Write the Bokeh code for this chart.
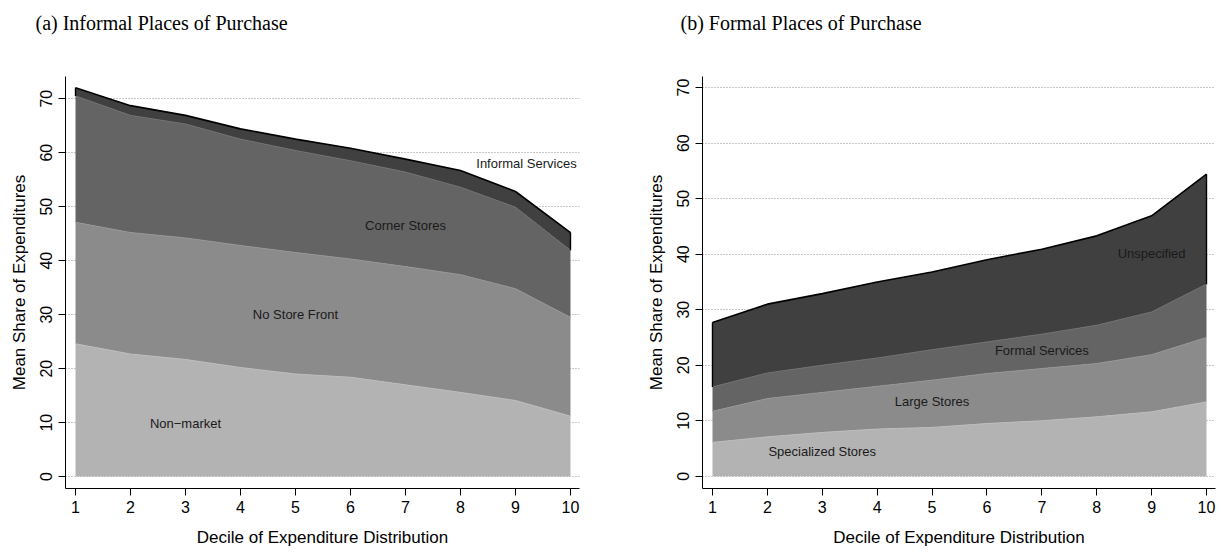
from bokeh.plotting import figure
from bokeh.layouts import row, column
from bokeh.models import ColumnDataSource, FixedTicker, Range1d
from bokeh.core.properties import value
from bokeh.embed import file_html
from bokeh.resources import INLINE
import numpy as np

deciles = [1, 2, 3, 4, 5, 6, 7, 8, 9, 10]
y_ticks = [0, 10, 20, 30, 40, 50, 60, 70]

# (a) Informal places of purchase (shares, stacked bottom -> top)
informal_names = ["Non\u2212market", "No Store Front", "Corner Stores", "Informal Services"]
non_market = [24.6, 22.7, 21.7, 20.2, 19.0, 18.4, 17.0, 15.6, 14.1, 11.2]
no_store_front = [22.5, 22.5, 22.5, 22.6, 22.5, 21.9, 21.9, 21.8, 20.7, 18.3]
corner_stores = [23.4, 21.7, 21.1, 19.7, 18.9, 18.2, 17.5, 16.2, 15.1, 12.4]
informal_services = [1.5, 1.8, 1.6, 1.9, 2.1, 2.3, 2.4, 3.1, 2.9, 3.3]

# (b) Formal places of purchase
formal_names = ["Specialized Stores", "Large Stores", "Formal Services", "Unspecified"]
specialized_stores = [6.1, 7.1, 7.9, 8.5, 8.8, 9.5, 10.0, 10.7, 11.6, 13.4]
large_stores = [5.6, 6.9, 7.2, 7.7, 8.5, 9.0, 9.4, 9.6, 10.3, 11.6]
formal_services = [4.4, 4.6, 4.9, 5.1, 5.5, 5.7, 6.2, 6.9, 7.7, 9.6]
unspecified = [11.6, 12.4, 12.9, 13.7, 14.0, 14.8, 15.3, 16.1, 17.3, 19.8]

# label anchor positions (data coords)
informal_label_x = [3.0, 5.0, 7.0, 9.2]
informal_label_y = [9.9, 30.1, 46.5, 58.0]
formal_label_x = [3.0, 5.0, 7.0, 9.0]
formal_label_y = [4.5, 13.4, 22.6, 40.1]

FILLS = ["#b3b3b3", "#8b8b8b", "#646464", "#404040"]
EDGES = ["#bcbcbc", "#959595", "#6e6e6e", "#000000"]
SANS = "Liberation Sans"

CAPTION_H = 44
HEIGHT = 553 - CAPTION_H
BORDER_TOP = 32
BORDER_BOTTOM = 65


def caption(text, width, x_pos):
    c = figure(width=width, height=CAPTION_H, output_backend="svg", toolbar_location=None,
               x_range=Range1d(0, width), y_range=Range1d(0, CAPTION_H),
               x_axis_type=None, y_axis_type=None, min_border=0)
    c.outline_line_color = None
    c.xgrid.visible = False
    c.ygrid.visible = False
    c.text(x=[x_pos], y=[CAPTION_H / 2], text=[text], text_align="left",
           text_baseline="middle", text_font=value("Liberation Serif"),
           text_font_size="20px", text_color="black")
    return c


def panel(names, series, lab_x, lab_y, y_end, width, bl, br):
    keys = ["s%d" % i for i in range(len(series))]
    data = dict(x=deciles)
    for k, s in zip(keys, series):
        data[k] = s
    src = ColumnDataSource(data)

    p = figure(width=width, height=HEIGHT, output_backend="svg", toolbar_location=None,
               x_range=Range1d(0.818, 10.164), y_range=Range1d(-2.2, y_end),
               min_border_left=bl, min_border_right=br, min_border_top=BORDER_TOP,
               min_border_bottom=BORDER_BOTTOM)
    p.outline_line_color = None
    p.background_fill_color = "white"

    p.varea_stack(keys, x="x", color=FILLS, source=src)
    lines = p.vline_stack(keys, x="x", color=EDGES, line_width=1, source=src)
    lines[-1].glyph.line_width = 1.6

    cum = np.cumsum(np.array(series), axis=0)
    p.segment(x0=[deciles[0], deciles[-1]], x1=[deciles[0], deciles[-1]],
              y0=[cum[-2][0], cum[-2][-1]], y1=[cum[-1][0], cum[-1][-1]],
              line_color="black", line_width=1.4)

    p.text(x=lab_x, y=lab_y, text=names, text_align="center", text_baseline="middle",
           text_font=value(SANS), text_font_size="13px", text_color="#1a1a1a")

    p.xgrid.visible = False
    p.ygrid.ticker = FixedTicker(ticks=y_ticks)
    p.ygrid.grid_line_color = "#8f8f8f"
    p.ygrid.grid_line_dash = "1 2"
    p.ygrid.grid_line_width = 1

    p.xaxis.ticker = FixedTicker(ticks=deciles)
    p.yaxis.ticker = FixedTicker(ticks=y_ticks)
    for ax in (p.xaxis[0], p.yaxis[0]):
        ax.axis_line_color = "black"
        ax.major_tick_line_color = "black"
        ax.major_tick_out = 7
        ax.major_tick_in = 0
        ax.minor_tick_line_color = None
        ax.major_label_text_font = SANS
        ax.major_label_text_font_size = "16px"
        ax.major_label_text_color = "black"
        ax.axis_label_text_font = SANS
        ax.axis_label_text_font_size = "17px"
        ax.axis_label_text_font_style = "normal"
        ax.axis_label_text_color = "black"
    p.xaxis.axis_label = "Decile of Expenditure Distribution"
    p.xaxis.major_label_standoff = 5
    p.xaxis.axis_label_standoff = 12
    p.yaxis.axis_label = "Mean Share of Expenditures"
    p.yaxis.major_label_orientation = "vertical"
    p.yaxis.major_label_standoff = 6
    p.yaxis.axis_label_standoff = 9
    return p


pa = panel(informal_names, [non_market, no_store_front, corner_stores, informal_services],
           informal_label_x, informal_label_y, 74.1, 618, 65, 39)
pb = panel(formal_names, [specialized_stores, large_stores, formal_services, unspecified],
           formal_label_x, formal_label_y, 72.0, 603, 84, 6)

ca = caption("(a) Informal Places of Purchase", 618, 35)
cb = caption("(b) Formal Places of Purchase", 603, 62)

layout = column(row(ca, cb), row(pa, pb))
open("out.html", "w").write(file_html(layout, INLINE))
